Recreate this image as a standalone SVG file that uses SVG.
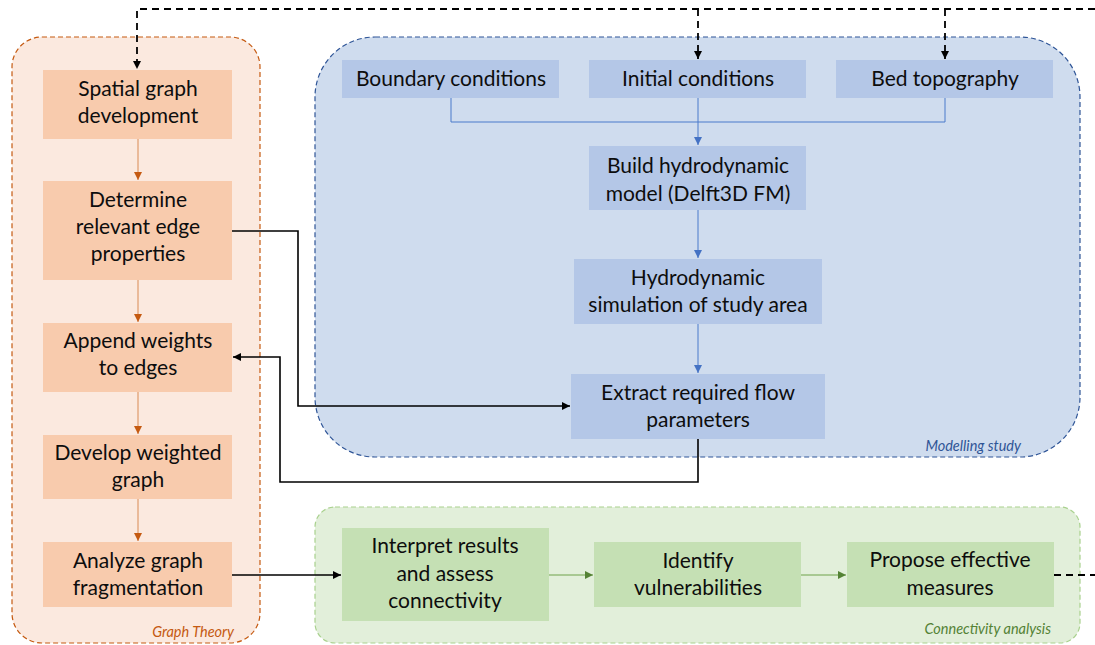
<svg xmlns="http://www.w3.org/2000/svg" width="1095" height="645" viewBox="0 0 1095 645">
<style>
text{font-family:Lato,"Open Sans","Liberation Sans",sans-serif;font-size:21px;fill:#0d0d0d;text-anchor:middle}
.lbl{font-size:14.5px;font-style:italic;text-anchor:end}
.on{fill:#F8CBAD}
.bn{fill:#B4C7E7}
.gn{fill:#C5E0B4}
.oc{stroke:#D98B55;stroke-width:1;fill:none}
.bc{stroke:#4A7BCB;stroke-width:1;fill:none}
.gc{stroke:#6FA24A;stroke-width:1;fill:none}
.kc{stroke:#000;stroke-width:1.6;fill:none}
.kd{stroke:#000;stroke-width:1.8;fill:none;stroke-dasharray:7 5}
</style>
<defs>
<marker id="ao" markerUnits="userSpaceOnUse" markerWidth="10" markerHeight="10" refX="8" refY="4" orient="auto"><path d="M0,0 L8,4 L0,8 z" fill="#C55A11"/></marker>
<marker id="ab" markerUnits="userSpaceOnUse" markerWidth="10" markerHeight="10" refX="8" refY="4" orient="auto"><path d="M0,0 L8,4 L0,8 z" fill="#4472C4"/></marker>
<marker id="ag" markerUnits="userSpaceOnUse" markerWidth="10" markerHeight="10" refX="8" refY="4" orient="auto"><path d="M0,0 L8,4 L0,8 z" fill="#548235"/></marker>
<marker id="ak" markerUnits="userSpaceOnUse" markerWidth="10" markerHeight="10" refX="8" refY="4" orient="auto"><path d="M0,0 L8,4 L0,8 z" fill="#000"/></marker>
</defs>

<g id="container-graph-theory">
<rect x="12" y="37" width="248" height="606" rx="30" fill="#FBE9DF" stroke="#C55A11" stroke-width="1.2" stroke-dasharray="5 3"/>
<text class="lbl" x="234" y="637" style="fill:#C55A11">Graph Theory</text>
</g>
<g id="container-modelling">
<rect x="315" y="37" width="765" height="420" rx="60" fill="#CFDCEE" stroke="#2F5597" stroke-width="1.2" stroke-dasharray="5 3"/>
<text class="lbl" x="1021" y="451" style="fill:#2F5597">Modelling study</text>
</g>
<g id="container-connectivity">
<rect x="315" y="507" width="765" height="136" rx="20" fill="#E2EFDA" stroke="#A9D18E" stroke-width="1.2" stroke-dasharray="5 3"/>
<text class="lbl" x="1051" y="634" style="fill:#548235">Connectivity analysis</text>
</g>

<g id="connectors">
<path class="oc" d="M138,139 V180" marker-end="url(#ao)"/>
<path class="oc" d="M138,280 V322" marker-end="url(#ao)"/>
<path class="oc" d="M138,392 V434" marker-end="url(#ao)"/>
<path class="oc" d="M138,499 V541" marker-end="url(#ao)"/>
<path class="bc" d="M451,98 V122 H945 V98"/>
<path class="bc" d="M698,98 V145" marker-end="url(#ab)"/>
<path class="bc" d="M698,210 V258" marker-end="url(#ab)"/>
<path class="bc" d="M698,324 V373" marker-end="url(#ab)"/>
<path class="gc" d="M549,575 H593" marker-end="url(#ag)"/>
<path class="gc" d="M801,575 H846" marker-end="url(#ag)"/>
<path class="kd" d="M1095,9 H137 V69" marker-end="url(#ak)"/>
<path class="kd" d="M698,9 V59" marker-end="url(#ak)"/>
<path class="kd" d="M945,9 V59" marker-end="url(#ak)"/>
<path class="kc" d="M232,231 H298 V406 H570" marker-end="url(#ak)"/>
<path class="kc" d="M698,439 V482 H280 V357 H233" marker-end="url(#ak)"/>
<path class="kc" d="M232,575 H341" marker-end="url(#ak)"/>
<path class="kd" d="M1054,575 H1095"/>
</g>

<g id="n-spatial"><rect class="on" x="43" y="70" width="189" height="69"/><text x="138" y="96">Spatial graph</text><text x="138" y="123">development</text></g>
<g id="n-determine"><rect class="on" x="43" y="181" width="189" height="99"/><text x="138" y="207">Determine</text><text x="138" y="234">relevant edge</text><text x="138" y="261">properties</text></g>
<g id="n-append"><rect class="on" x="43" y="323" width="189" height="69"/><text x="138" y="348">Append weights</text><text x="138" y="375">to edges</text></g>
<g id="n-develop"><rect class="on" x="43" y="435" width="189" height="64"/><text x="138" y="460">Develop weighted</text><text x="138" y="487">graph</text></g>
<g id="n-analyze"><rect class="on" x="43" y="542" width="189" height="65"/><text x="138" y="568">Analyze graph</text><text x="138" y="595">fragmentation</text></g>

<g id="n-boundary"><rect class="bn" x="342" y="60" width="217" height="38"/><text x="451" y="86">Boundary conditions</text></g>
<g id="n-initial"><rect class="bn" x="589" y="60" width="217" height="38"/><text x="698" y="86">Initial conditions</text></g>
<g id="n-bed"><rect class="bn" x="836" y="60" width="217" height="38"/><text x="945" y="86">Bed topography</text></g>
<g id="n-build"><rect class="bn" x="589" y="146" width="217" height="64"/><text x="698" y="173">Build hydrodynamic</text><text x="698" y="201">model (Delft3D FM)</text></g>
<g id="n-simulation"><rect class="bn" x="574" y="259" width="248" height="65"/><text x="698" y="285">Hydrodynamic</text><text x="698" y="312">simulation of study area</text></g>
<g id="n-extract"><rect class="bn" x="571" y="374" width="254" height="65"/><text x="698" y="400">Extract required flow</text><text x="698" y="427">parameters</text></g>

<g id="n-interpret"><rect class="gn" x="342" y="528" width="207" height="93"/><text x="445" y="553">Interpret results</text><text x="445" y="581">and assess</text><text x="445" y="608">connectivity</text></g>
<g id="n-identify"><rect class="gn" x="594" y="542" width="207" height="65"/><text x="698" y="568">Identify</text><text x="698" y="595">vulnerabilities</text></g>
<g id="n-propose"><rect class="gn" x="847" y="542" width="207" height="65"/><text x="950" y="567">Propose effective</text><text x="950" y="595">measures</text></g>
</svg>
